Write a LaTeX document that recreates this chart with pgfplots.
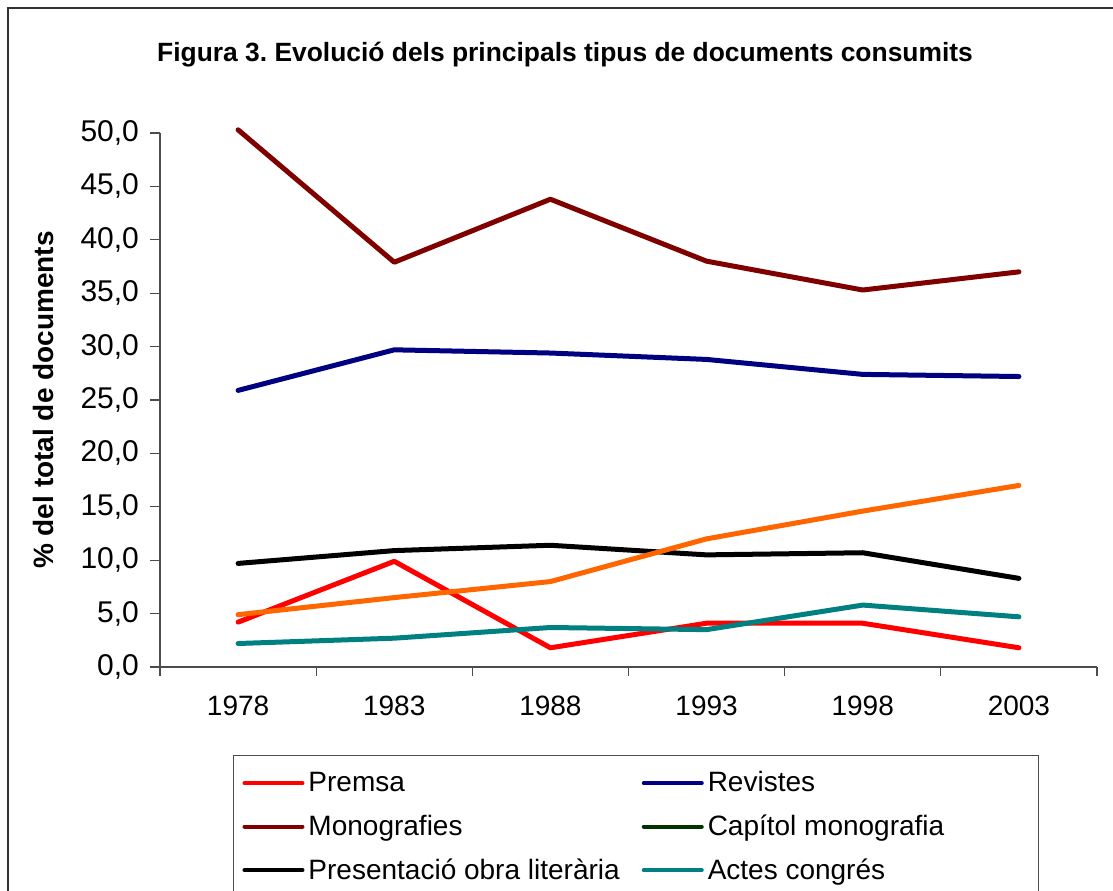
\documentclass[border=0pt]{standalone}
\usepackage{fontspec}
\setmainfont{Liberation Sans}
\usepackage{pgfplots}
\pgfplotsset{compat=1.18}
\frenchspacing
\definecolor{premsa}{RGB}{255,0,0}
\definecolor{revistes}{RGB}{0,0,128}
\definecolor{monog}{RGB}{128,0,0}
\definecolor{capitol}{RGB}{0,51,0}
\definecolor{actes}{RGB}{0,128,128}
\definecolor{altres}{RGB}{255,102,0}
\begin{document}
\begin{tikzpicture}
% 1 px of the reference = 0.5pt
\path[use as bounding box, clip] (0pt,0pt) rectangle (556.5pt,-445pt);
\fill[white] (0pt,0pt) rectangle (556.5pt,-445pt);
\draw[black!80, line width=0.8pt] (4pt,-4pt) rectangle (600pt,-500pt);
\node[font=\bfseries\fontsize{13.2}{15}\selectfont, anchor=base] at (282.5pt,-30.5pt)
  {Figura 3. Evolució dels principals tipus de documents consumits};
\begin{axis}[
  at={(80pt,-333.5pt)}, anchor=south west,
  scale only axis, width=468.5pt, height=267pt,
  xmin=-0.5, xmax=5.5, ymin=0, ymax=50,
  clip=false,
  axis x line*=bottom, axis y line*=left,
  axis line style={-, black!70, line width=0.6pt},
  xtick={0,...,5},
  xticklabels={1978,1983,1988,1993,1998,2003},
  minor xtick={-0.5,0.5,...,5.5},
  major x tick style={draw=none},
  minor tick length=4.5pt, major tick length=5pt,
  tick align=outside,
  tick style={black!70, line width=0.6pt},
  ytick={0,5,...,50},
  /pgf/number format/.cd, fixed, fixed zerofill, precision=1, use comma,
  assume math mode=true, /pgfplots/.cd,
  yticklabel style={font=\fontsize{15}{17}\selectfont, xshift=-2pt},
  xticklabel style={font=\fontsize{14}{16}\selectfont, yshift=-6pt},
  every axis y label/.style={at={(axis description cs:0,0.5)}, xshift=-58.5pt,
    rotate=90, anchor=center, font=\bfseries\fontsize{14}{16}\selectfont},
  ylabel={\% del total de documents},
  every axis plot/.append style={line width=2.5pt, line join=round, line cap=round},
  legend columns=2,
  legend cell align=left,
  legend image code/.code={\draw[#1, line width=2pt] (0pt,0pt) -- (29pt,0pt);},
  legend style={at={(rel axis cs:0.0779,-0.1648)}, anchor=north west,
    draw=black!70, line width=0.5pt, inner xsep=4.5pt, inner ysep=6pt,
    font=\fontsize{14}{16}\selectfont,
    /tikz/every even column/.append style={column sep=9pt},
    row sep=6pt},
]
\addplot[premsa] coordinates {(0,4.2)(1,9.9)(2,1.8)(3,4.1)(4,4.1)(5,1.8)};
\addlegendentry{Premsa}
\addplot[revistes] coordinates {(0,25.9)(1,29.7)(2,29.4)(3,28.8)(4,27.4)(5,27.2)};
\addlegendentry{\makebox[159pt][l]{Revistes}}
\addplot[monog] coordinates {(0,50.3)(1,37.9)(2,43.8)(3,38.0)(4,35.3)(5,37.0)};
\addlegendentry{Monografies}
\addlegendimage{capitol, line width=2pt}
\addlegendentry{Capítol monografia}
\addplot[black] coordinates {(0,9.7)(1,10.9)(2,11.4)(3,10.5)(4,10.7)(5,8.3)};
\addlegendentry{Presentació obra literària}
\addplot[actes] coordinates {(0,2.2)(1,2.7)(2,3.7)(3,3.5)(4,5.8)(5,4.7)};
\addlegendentry{Actes congrés}
\addplot[altres] coordinates {(0,4.9)(1,6.5)(2,8.0)(3,12.0)(4,14.6)(5,17.0)};
\addlegendentry{Altres}
\end{axis}
\end{tikzpicture}
\end{document}
